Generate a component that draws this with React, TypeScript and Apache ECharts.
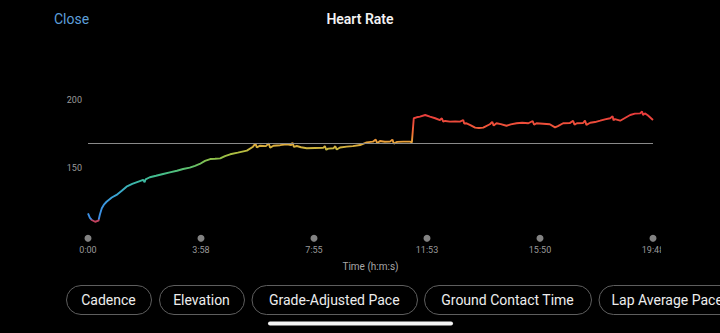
import React, { useEffect, useRef } from "react";
import * as echarts from "echarts";

// [seconds, bpm]
const warmUp: [number, number][] = [
  [0, 116.9], [4, 113.5], [8, 112], [15, 110.7], [22, 111.5], [25, 116], [29, 120.6],
  [34, 123.5], [39, 125.4], [50, 128.5], [60, 130.4], [71, 133.5], [81, 136.5],
  [93, 138.5], [106, 140.2], [116, 141.5], [119, 139.8], [121, 141.8], [130, 143.4],
  [143, 144.5], [158, 145.8], [172, 147], [187, 148.2], [200, 149.5], [214, 150.5],
];
const climb: [number, number][] = [
  [225, 151.8], [235, 153.2], [246, 155.5], [257, 156.8], [267, 157], [278, 157.3],
  [288, 159], [299, 160.3], [315, 161.5], [334, 163], [347, 165.9], [352, 168.2],
  [355, 165.4], [362, 166.6], [374, 166.3], [380, 168.2], [383, 165.2], [390, 166.6],
];
const plateau: [number, number][] = [
  [404, 167], [418, 167.6], [427, 167], [430, 168.8], [433, 165.8], [439, 166.4],
  [448, 165.5], [460, 164.7], [477, 164.9], [495, 165.1], [498, 166.4], [501, 163.6],
  [505, 164.5], [516, 164.7], [520, 166.2], [523, 163.8], [530, 165.3], [544, 165.9],
  [557, 166.3], [572, 167.1], [586, 169.1], [599, 169.6], [605, 171.2], [608, 168.4],
  [614, 170.1], [624, 169.5], [635, 169.6], [640, 171.1], [643, 168.2], [650, 169.4],
  [663, 169.6], [677, 169.6], [681, 169.1],
];
const surge: [number, number][] = [
  [683, 178], [685, 186.8], [691, 187.5], [698, 188], [709, 189.2], [719, 188],
  [730, 186.8], [740, 185.5], [744, 186.8], [747, 184.3], [751, 184.8], [761, 184.3],
  [772, 184.5], [782, 184.3], [789, 185.5], [791, 182.9], [796, 183.1], [804, 181.8],
  [814, 179.9], [822, 179.6], [831, 179.9], [845, 182.4], [850, 184.2], [853, 181.4],
  [859, 183.1], [868, 182.5], [880, 181.3], [889, 182.3], [901, 183.1], [913, 183.5],
  [926, 183.1], [935, 184.8], [938, 182], [943, 183.1], [957, 182.8], [971, 182.4],
  [982, 180.1], [988, 181], [999, 183.1], [1013, 183.2], [1020, 184.9], [1023, 182.1],
  [1028, 183.1], [1041, 183.3], [1045, 185.1], [1048, 181.9], [1056, 183.5], [1066, 184],
  [1077, 185], [1087, 186], [1098, 186.8], [1103, 188.2], [1105, 185.4], [1108, 186.2],
  [1119, 185], [1129, 187], [1140, 189.2], [1150, 190.2], [1161, 190.4], [1165, 191.8],
  [1167, 189.2], [1171, 190.4], [1177, 189], [1188, 185.5],
];

const tickSeconds = [0, 237.6, 475.2, 712.8, 950.4, 1188];
const averageHr = 168.4;
const yMin = 100;
const yMax = 200;
const yStep = 50;
const chipLabels = ["Cadence", "Elevation", "Grade-Adjusted Pace", "Ground Contact Time", "Lap Average Pace"];

// colour anchors by heart-rate value (styling)
const colorAnchors: [number, string][] = [
  [100, "#c4405c"], [111.6, "#c4405c"], [113, "#3d8ee6"], [125, "#3b98de"],
  [133, "#3aaacb"], [140, "#3cb8a4"], [146, "#46be88"], [151, "#62c06a"],
  [157, "#8ec04a"], [162, "#b4be40"], [165.5, "#d2b13e"], [169.5, "#e9a23a"],
  [175, "#f27634"], [181, "#f0533a"], [190, "#e83c3c"], [200, "#e83c3c"],
];

function hex(c: string): number[] {
  return [1, 3, 5].map((i) => parseInt(c.slice(i, i + 2), 16));
}
function colorAt(v: number): string {
  for (let i = 0; i < colorAnchors.length - 1; i++) {
    const [v0, c0] = colorAnchors[i];
    const [v1, c1] = colorAnchors[i + 1];
    if (v >= v0 && v <= v1) {
      const t = v1 === v0 ? 0 : (v - v0) / (v1 - v0);
      const a = hex(c0);
      const b = hex(c1);
      const m = a.map((x, k) => Math.round(x + (b[k] - x) * t));
      return `rgb(${m[0]},${m[1]},${m[2]})`;
    }
  }
  return colorAnchors[colorAnchors.length - 1][1];
}

function fmt(s: number): string {
  const r = Math.round(s);
  const m = Math.floor(r / 60);
  const ss = r % 60;
  return `${m}:${ss < 10 ? "0" : ""}${ss}`;
}

const FONT = "Roboto, 'Noto Sans', sans-serif";

export default function App() {
  const ref = useRef<HTMLDivElement>(null);
  useEffect(() => {
    if (!ref.current) return;
    const chart = echarts.init(ref.current, undefined, { renderer: "svg" });
    const hrSeries = [...warmUp, ...climb, ...plateau, ...surge];
    const palette: string[] = [];
    for (let i = 0; i <= 200; i++) palette.push(colorAt(yMin + ((yMax - yMin) * i) / 200));
    const chipX = [66, 159, 251.5, 424, 598.5];
    const chipW = [85, 85, 165.5, 167, 200];
    const chips: any[] = [];
    chipLabels.forEach((label, i) => {
      chips.push({
        type: "rect",
        shape: { x: chipX[i] + 0.5, y: 285.5, width: chipW[i], height: 29, r: 14.5 },
        style: { fill: "none", stroke: "#5e5e5e", lineWidth: 1 },
        z: 10,
      });
      const last = i === chipLabels.length - 1;
      chips.push({
        type: "text",
        x: last ? chipX[i] + 13 : chipX[i] + chipW[i] / 2,
        y: 300,
        style: {
          text: label,
          fill: "#ededed",
          font: `14px ${FONT}`,
          align: last ? "left" : "center",
          verticalAlign: "middle",
        },
        z: 10,
      });
    });
    chart.setOption({
      animation: false,
      backgroundColor: "#000",
      grid: { left: 88, right: 67, top: 100.3, bottom: 96.7, containLabel: false },
      xAxis: {
        type: "value",
        min: 0,
        max: tickSeconds[tickSeconds.length - 1],
        interval: tickSeconds[1],
        axisLine: { show: false },
        axisTick: { show: false },
        splitLine: { show: false },
        axisLabel: {
          color: "#9a9a9a",
          fontSize: 9,
          fontFamily: FONT,
          margin: 9,
          showMaxLabel: true,
          showMinLabel: true,
          formatter: (v: number) => fmt(v),
        },
        name: "Time (h:m:s)",
        nameLocation: "middle",
        nameGap: 25,
        nameTextStyle: { color: "#a8a8a8", fontSize: 10, fontFamily: FONT },
      },
      yAxis: {
        type: "value",
        min: yMin,
        max: yMax,
        interval: yStep,
        axisLine: { show: false },
        axisTick: { show: false },
        splitLine: { show: false },
        axisLabel: {
          color: "#9a9a9a",
          fontSize: 9,
          fontFamily: FONT,
          margin: 6,
          formatter: (v: number) => (v === yMin ? "" : String(v)),
        },
      },
      visualMap: {
        type: "continuous",
        show: false,
        seriesIndex: 0,
        dimension: 1,
        min: yMin,
        max: yMax,
        inRange: { color: palette },
      },
      series: [
        {
          type: "line",
          data: hrSeries,
          symbol: "none",
          lineStyle: { width: 1.9 },
          z: 3,
        },
        {
          type: "scatter",
          data: tickSeconds.map((t) => [t, yMin]),
          symbol: "circle",
          symbolSize: 7,
          symbolOffset: [0, 2],
          itemStyle: { color: "#a3a3a3" },
          clip: false,
          silent: true,
          z: 2,
          markLine: {
            silent: true,
            symbol: "none",
            label: { show: false },
            lineStyle: { color: "#8a8a8a", width: 1, type: "solid" },
            data: [{ yAxis: averageHr }],
          },
        },
      ],
      graphic: [
        {
          type: "text",
          x: 54,
          y: 19,
          style: { text: "Close", fill: "#5d9fd9", font: `14px ${FONT}`, verticalAlign: "middle" },
        },
        {
          type: "text",
          x: 360,
          y: 19,
          style: {
            text: "Heart Rate",
            fill: "#f2f2f2",
            font: `600 14px ${FONT}`,
            align: "center",
            verticalAlign: "middle",
          },
        },
        {
          type: "rect",
          shape: { x: 661, y: 243, width: 40, height: 14 },
          style: { fill: "#000" },
          z: 20,
        },
        ...chips,
        {
          type: "rect",
          shape: { x: 268, y: 321.5, width: 185, height: 4, r: 2 },
          style: { fill: "#f4f4f4" },
          z: 10,
        },
      ],
    });
    return () => chart.dispose();
  }, []);
  return (
    <div
      style={{ position: "fixed", left: 0, top: 0, width: 720, height: 333, background: "#000", overflow: "hidden" }}
    >
      <div ref={ref} style={{ width: 720, height: 333 }} />
    </div>
  );
}
